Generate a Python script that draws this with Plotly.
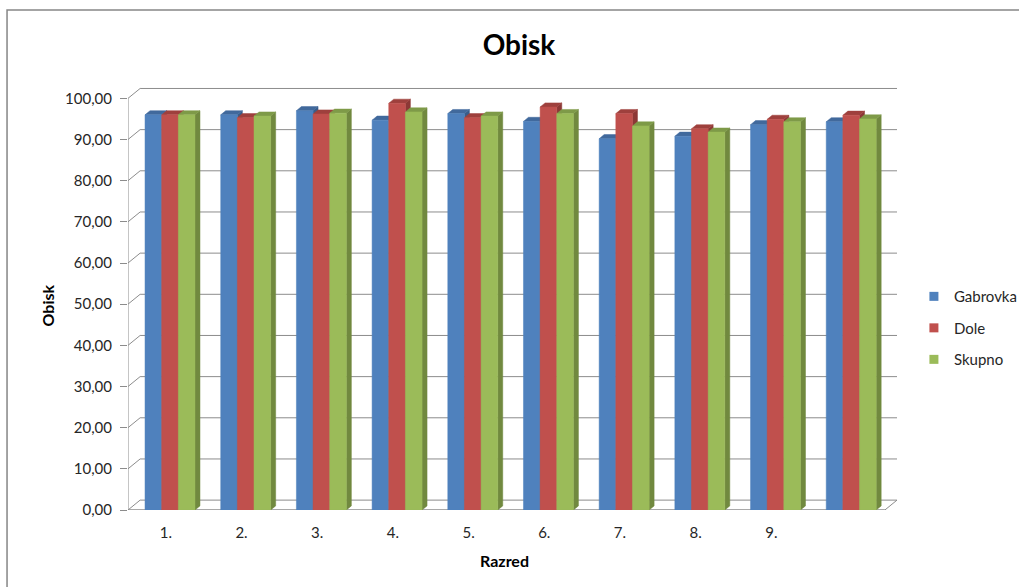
import plotly.graph_objects as go

categories = ["1.", "2.", "3.", "4.", "5.", "6.", "7.", "8.", "9.", ""]
series_names = ["Gabrovka", "Dole", "Skupno"]
gabrovka = [96.0, 96.0, 97.0, 94.7, 96.3, 94.4, 90.2, 90.8, 93.6, 94.3]
dole = [96.0, 95.3, 96.2, 98.8, 95.3, 97.9, 96.3, 92.6, 94.9, 95.9]
skupno = [96.0, 95.7, 96.4, 96.7, 95.7, 96.3, 93.3, 91.8, 94.3, 95.0]
y_ticks = [0, 10, 20, 30, 40, 50, 60, 70, 80, 90, 100]

series = [gabrovka, dole, skupno]
front_colors = ["#4F81BD", "#C0504D", "#9BBB59"]
side_colors = ["#385D8A", "#8C3836", "#71893F"]
top_colors = ["#41699C", "#9E403D", "#7E9A48"]

# geometry (styling) constants
W = 0.22        # bar width in category units
SHIFT = 0.055   # front-face offset of a group
DX = 0.066      # bar depth in x
DY = 1.0        # bar depth in y
FDX = 0.16      # floor depth in x
FDY = 2.4       # floor depth in y
GRID = "#8C8C8C"

fig = go.Figure()

def poly_traces(kind):
    out = []
    for s, vals in enumerate(series):
        xs, ys = [], []
        for i, v in enumerate(vals):
            xl = i + SHIFT + (s - 1.5) * W
            xr = xl + W
            if kind == "front":
                xs += [xl, xr, xr, xl, xl, None]
                ys += [0, 0, v, v, 0, None]
            elif kind == "side":
                xs += [xr, xr + DX, xr + DX, xr, xr, None]
                ys += [0, DY, v + DY, v, 0, None]
            else:
                xs += [xl, xr, xr + DX, xl + DX, xl, None]
                ys += [v, v, v + DY, v + DY, v, None]
        col = {"front": front_colors, "side": side_colors, "top": top_colors}[kind][s]
        out.append(go.Scatter(x=xs, y=ys, mode="lines", fill="toself", fillcolor=col,
                              line=dict(color=col, width=0.5), hoverinfo="skip",
                              showlegend=False))
    return out

sides = poly_traces("side")
tops = poly_traces("top")
for s in range(3):
    fig.add_trace(sides[s])
    fig.add_trace(tops[s])
for tr in poly_traces("front"):
    fig.add_trace(tr)

for s, name in enumerate(series_names):
    fig.add_trace(go.Scatter(x=[None], y=[None], mode="markers", name=name,
                             legendgroup=name,
                             marker=dict(symbol="square", size=9, color=front_colors[s])))

n = len(categories)
x_left = -0.5
x_right = n - 0.5

shapes = []
# back wall gridlines + left wall connectors
for t in y_ticks:
    shapes.append(dict(type="line", xref="x", yref="y", x0=x_left + FDX, x1=x_right + FDX,
                       y0=t + FDY, y1=t + FDY, line=dict(color=GRID, width=1), layer="below"))
    shapes.append(dict(type="line", xref="x", yref="y", x0=x_left, x1=x_left + FDX,
                       y0=t, y1=t + FDY, line=dict(color=GRID, width=1), layer="below"))
# floor front and right edges
shapes.append(dict(type="line", xref="x", yref="y", x0=x_left, x1=x_right, y0=0, y1=0,
                   line=dict(color=GRID, width=1.5), layer="below"))
shapes.append(dict(type="line", xref="x", yref="y", x0=x_right, x1=x_right + FDX, y0=0, y1=FDY,
                   line=dict(color=GRID, width=1), layer="below"))
# left wall front vertical
shapes.append(dict(type="line", xref="x", yref="y", x0=x_left, x1=x_left, y0=0, y1=max(y_ticks),
                   line=dict(color=GRID, width=1), layer="below"))
# chart border (right and bottom edges fall outside the window)
shapes.append(dict(type="rect", xref="paper", yref="paper", x0=-0.1573, x1=1.25, y0=-0.3, y1=1.179,
                   line=dict(color="#868686", width=1.5), fillcolor="rgba(0,0,0,0)"))

font = "Lato, 'Open Sans', sans-serif"

fig.update_layout(
    width=1019, height=587,
    margin=dict(l=128, r=122, t=86, b=77, autoexpand=False),
    paper_bgcolor="white", plot_bgcolor="white",
    separators=", ",
    font=dict(family=font, size=15, color="#262626"),
    title=dict(text="<b>Obisk</b>", x=0.5093, xref="container", y=0.9233, yref="container",
               xanchor="center", yanchor="middle", font=dict(size=28, color="#000000")),
    xaxis=dict(range=[x_left, x_right + FDX], tickvals=list(range(n)), ticktext=categories,
               showgrid=False, zeroline=False, showline=False, ticks="",
               ticklabelstandoff=12, fixedrange=True),
    yaxis=dict(range=[0, 103], tickvals=y_ticks, tickformat=".2f", showgrid=False,
               zeroline=False, showline=False, ticks="outside", ticklen=7, tickcolor=GRID,
               ticklabelstandoff=5, fixedrange=True),
    legend=dict(x=1.022, y=0.429, xanchor="left", yanchor="middle", tracegroupgap=9,
                font=dict(size=15, color="#262626"), bgcolor="rgba(0,0,0,0)"),
    shapes=shapes,
    annotations=[
        dict(text="<b>Obisk</b>", xref="paper", yref="paper", x=-0.105, y=0.483, textangle=-90,
             showarrow=False, font=dict(size=16, color="#000000"), xanchor="center", yanchor="middle"),
        dict(text="<b>Razred</b>", xref="paper", yref="paper", x=0.49, y=-0.118,
             showarrow=False, font=dict(size=16, color="#000000"), xanchor="center", yanchor="middle"),
    ],
)

fig.write_html(
    "out.html",
    config={"displayModeBar": False},
    post_script="document.body.style.margin='0';document.body.style.overflow='hidden';",
)
